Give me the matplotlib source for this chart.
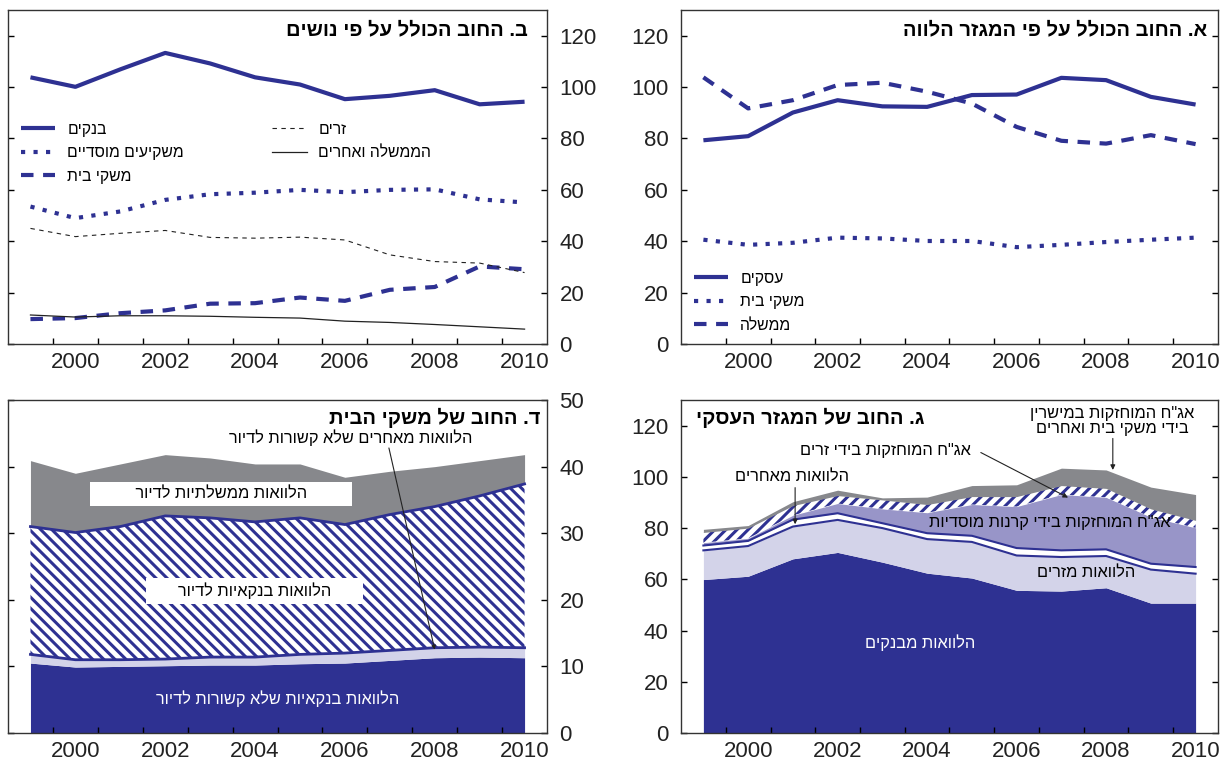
import numpy as np
import matplotlib
matplotlib.use('Agg')
import matplotlib.pyplot as plt

plt.rcParams['font.family'] = ['Liberation Sans', 'DejaVu Sans']
plt.rcParams['hatch.linewidth'] = 2.2

NAVY = '#2e3192'
GRAY = '#87888c'
LAV_LIGHT = '#d3d3e9'
LAV_MID = '#9895c8'

years = [1999, 2000, 2001, 2002, 2003, 2004, 2005, 2006, 2007, 2008, 2009, 2010]
label_years = [2000, 2002, 2004, 2006, 2008, 2010]

# א. total debt by borrowing sector
business = [79.3, 80.9, 90.1, 94.9, 92.5, 92.3, 96.9, 97.1, 103.6, 102.7, 96.2, 93.2]
households_a = [40.6, 38.6, 39.4, 41.4, 41.1, 40.1, 40.1, 37.7, 38.6, 39.7, 40.6, 41.4]
government_a = [103.8, 91.7, 94.9, 100.8, 101.7, 98.2, 93.6, 84.5, 79.1, 78.0, 81.3, 77.8]

# ב. total debt by creditor
banks_b = [103.8, 100.1, 106.9, 113.3, 109.2, 103.8, 101.0, 95.3, 96.6, 98.8, 93.3, 94.3]
institutional_b = [53.5, 49.0, 51.6, 56.1, 58.3, 58.9, 60.0, 59.1, 60.0, 60.2, 56.3, 55.1]
foreigners_b = [45.0, 41.8, 43.1, 44.2, 41.5, 41.2, 41.6, 40.5, 34.7, 32.1, 31.5, 27.8]
households_b = [9.7, 10.1, 12.0, 13.1, 15.7, 15.9, 18.1, 16.8, 21.1, 22.2, 30.2, 29.1]
gov_others_b = [11.3, 10.5, 11.0, 11.0, 10.8, 10.4, 10.1, 8.9, 8.4, 7.6, 6.7, 5.8]

# ג. business sector debt (stacked layers)
bank_loans = [59.9, 61.2, 68.0, 70.5, 66.7, 62.4, 60.5, 55.7, 55.4, 56.7, 50.7, 50.7]
foreign_loans = [11.4, 11.8, 12.6, 12.7, 13.3, 13.3, 14.1, 13.6, 13.3, 12.4, 13.1, 11.5]
other_loans = [1.9, 2.0, 2.7, 2.6, 1.9, 2.3, 2.4, 2.9, 2.6, 2.6, 2.3, 2.6]
inst_bonds = [1.1, 1.0, 1.7, 3.8, 5.6, 8.0, 12.2, 16.2, 21.8, 20.3, 18.2, 15.3]
foreign_bonds = [4.0, 4.0, 3.8, 3.1, 3.5, 3.2, 3.1, 3.9, 3.5, 3.5, 3.2, 2.9]
hh_bonds = [1.2, 1.0, 1.5, 2.1, 0.8, 2.9, 4.3, 4.6, 6.8, 7.2, 8.5, 10.1]

# ד. household debt (stacked layers)
bank_nonhousing = [10.5, 9.9, 10.0, 10.1, 10.2, 10.2, 10.4, 10.5, 10.9, 11.3, 11.4, 11.3]
other_nonhousing = [1.3, 1.1, 1.0, 1.0, 1.2, 1.2, 1.4, 1.5, 1.5, 1.5, 1.5, 1.5]
bank_housing = [19.2, 19.1, 20.0, 21.5, 20.9, 20.3, 20.5, 19.3, 20.4, 21.2, 22.7, 24.6]
gov_housing = [9.9, 8.9, 9.4, 9.2, 9.0, 8.7, 8.1, 7.1, 6.5, 6.0, 5.3, 4.4]

LABEL_SIZE = 11.8
TITLE_SIZE = 14.5


def rtl(s):
    # matplotlib has no bidi support: reverse each line into visual order
    return '\n'.join(line[::-1] for line in s.split('\n'))


def setup_axes(ax, ymax, yticks, side):
    ax.set_xlim(1998.5, 2010.5)
    ax.set_ylim(0, ymax)
    ax.set_xticks([y + 0.5 for y in years[:-1]])
    ax.set_xticks(label_years, [str(y) for y in label_years], minor=True)
    ax.tick_params(axis='x', which='major', direction='in', length=4,
                   labelbottom=False, width=1)
    ax.tick_params(axis='x', which='minor', length=0, labelsize=16, pad=6,
                   colors='#222222')
    ax.set_yticks(yticks)
    ax.tick_params(axis='y', direction='in', length=4, width=1,
                   left=True, right=True,
                   labelleft=(side == 'left'), labelright=(side == 'right'),
                   labelsize=16, pad=9, labelcolor='#222222')
    for sp in ax.spines.values():
        sp.set_linewidth(1.0)
        sp.set_color('#333333')


fig = plt.figure(figsize=(12.22, 7.64), dpi=100)
ax_b = fig.add_axes([0.00655, 0.5497, 0.4411, 0.4372])
ax_a = fig.add_axes([0.5573, 0.5497, 0.4394, 0.4372])
ax_d = fig.add_axes([0.00655, 0.0406, 0.4411, 0.4358])
ax_g = fig.add_axes([0.5573, 0.0406, 0.4394, 0.4358])

solid = dict(color=NAVY, lw=3, solid_capstyle='butt')
dotted = dict(color=NAVY, lw=3, linestyle=(0, (1, 2)), dash_capstyle='butt')
dashed = dict(color=NAVY, lw=3, linestyle=(0, (3, 2.3)), dash_capstyle='butt')

# ---- ב. by creditor ----
ax = ax_b
setup_axes(ax, 130, range(0, 121, 20), 'right')
h1, = ax.plot(years, banks_b, label=rtl('בנקים'), **solid)
h2, = ax.plot(years, institutional_b, label=rtl('משקיעים מוסדיים'), **dotted)
h3, = ax.plot(years, households_b, label=rtl('משקי בית'), **dashed)
h4, = ax.plot(years, foreigners_b, label=rtl('זרים'), color='#222222', lw=0.8,
              linestyle=(0, (4, 4)))
h5, = ax.plot(years, gov_others_b, label=rtl('הממשלה ואחרים'), color='#222222', lw=0.9)
leg_opts = dict(loc='upper left', frameon=False, fontsize=11.3, handlelength=2.2,
                handletextpad=0.75, labelspacing=0.55, borderpad=0, borderaxespad=0)
leg1 = ax.legend(handles=[h1, h2, h3], bbox_to_anchor=(0.024, 0.666), **leg_opts)
ax.add_artist(leg1)
ax.legend(handles=[h4, h5], bbox_to_anchor=(0.49, 0.666), **leg_opts)
ax.text(0.965, 0.94, rtl('ב. החוב הכולל על פי נושים'), transform=ax.transAxes,
        ha='right', va='center', fontsize=TITLE_SIZE, fontweight='bold')

# ---- א. by borrowing sector ----
ax = ax_a
setup_axes(ax, 130, range(0, 121, 20), 'left')
g1, = ax.plot(years, business, label=rtl('עסקים'), **solid)
g2, = ax.plot(years, households_a, label=rtl('משקי בית'), **dotted)
g3, = ax.plot(years, government_a, label=rtl('ממשלה'), **dashed)
ax.legend(handles=[g1, g2, g3], bbox_to_anchor=(0.024, 0.22), **leg_opts)
ax.text(0.98, 0.94, rtl('א. החוב הכולל על פי המגזר הלווה'), transform=ax.transAxes,
        ha='right', va='center', fontsize=TITLE_SIZE, fontweight='bold')

# ---- ד. household debt ----
ax = ax_d
setup_axes(ax, 50, range(0, 51, 10), 'right')
layers_d = np.cumsum(np.vstack([bank_nonhousing, other_nonhousing,
                                bank_housing, gov_housing]), axis=0)
ax.fill_between(years, 0, layers_d[0], color=NAVY, lw=0)
ax.fill_between(years, layers_d[0], layers_d[1], color=LAV_LIGHT, lw=0)
ax.fill_between(years, layers_d[1], layers_d[2], facecolor='white',
                edgecolor=NAVY, hatch='\\\\\\', lw=0)
ax.fill_between(years, layers_d[2], layers_d[3], color=GRAY, lw=0)
ax.plot(years, layers_d[1], color=NAVY, lw=2)
ax.plot(years, layers_d[2], color=NAVY, lw=2)

ax.text(0.987, 0.946, rtl('ד. החוב של משקי הבית'), transform=ax.transAxes,
        ha='right', va='center', fontsize=TITLE_SIZE, fontweight='bold')
box = dict(boxstyle='square,pad=0.3', facecolor='white', edgecolor='none')
ax.text(2003.24, 35.9, ' ' * 9 + rtl('הלוואות ממשלתיות לדיור') + ' ' * 9,
        ha='center', va='center', fontsize=LABEL_SIZE, bbox=box)
ax.text(2003.98, 21.3, ' ' * 6 + rtl('הלוואות בנקאיות לדיור') + ' ' * 6,
        ha='center', va='center', fontsize=LABEL_SIZE, bbox=box)
ax.text(2004.5, 5.1, rtl('הלוואות בנקאיות שלא קשורות לדיור'),
        ha='center', va='center', fontsize=LABEL_SIZE, color='white')
ax.text(2006.13, 44.3, rtl('הלוואות מאחרים שלא קשורות לדיור'),
        ha='center', va='center', fontsize=LABEL_SIZE)
ax.annotate('', xy=(2008, layers_d[1][9] - 0.3), xytext=(2006.98, 42.8),
            arrowprops=dict(arrowstyle='-|>', color='#222222', lw=0.8,
                            mutation_scale=6, shrinkA=0, shrinkB=0))

# ---- ג. business sector debt ----
ax = ax_g
setup_axes(ax, 130, range(0, 121, 20), 'left')
layers_g = np.cumsum(np.vstack([bank_loans, foreign_loans, other_loans,
                                inst_bonds, foreign_bonds, hh_bonds]), axis=0)
ax.fill_between(years, 0, layers_g[0], color=NAVY, lw=0)
ax.fill_between(years, layers_g[0], layers_g[1], color=LAV_LIGHT, lw=0)
ax.fill_between(years, layers_g[1], layers_g[2], color='white', lw=0)
ax.fill_between(years, layers_g[2], layers_g[3], color=LAV_MID, lw=0)
ax.fill_between(years, layers_g[3], layers_g[4], facecolor='white',
                edgecolor=NAVY, hatch='///', lw=0)
ax.fill_between(years, layers_g[4], layers_g[5], color=GRAY, lw=0)
ax.plot(years, layers_g[1], color=NAVY, lw=1.5)
ax.plot(years, layers_g[2], color=NAVY, lw=1.5)

ax.text(0.028, 0.946, rtl('ג. החוב של המגזר העסקי'), transform=ax.transAxes,
        ha='left', va='center', fontsize=TITLE_SIZE, fontweight='bold')
arrow = dict(arrowstyle='-|>', color='#222222', lw=0.8, mutation_scale=7,
             shrinkA=0, shrinkB=0)
ax.text(2008.13, 122.0, rtl('אג"ח המוחזקות במישרין\nבידי משקי בית ואחרים'),
        ha='center', va='center', fontsize=LABEL_SIZE, linespacing=1.0)
ax.annotate('', xy=(2008.15, layers_g[5][9]), xytext=(2008.15, 115.0), arrowprops=arrow)
ax.text(2003.06, 110.2, rtl('אג"ח המוחזקות בידי זרים'),
        ha='center', va='center', fontsize=LABEL_SIZE)
ax.annotate('', xy=(2007.15, 91.9), xytext=(2005.2, 109.5), arrowprops=arrow)
ax.text(2000.98, 100.1, rtl('הלוואות מאחרים'), ha='center', va='center',
        fontsize=LABEL_SIZE)
ax.annotate('', xy=(2001.05, 81.5), xytext=(2001.05, 95.8), arrowprops=arrow)
ax.text(2006.75, 82.2, rtl('אג"ח המוחזקות בידי קרנות מוסדיות'),
        ha='center', va='center', fontsize=LABEL_SIZE)
ax.text(2007.55, 62.7, rtl('הלוואות מזרים'), ha='center', va='center',
        fontsize=LABEL_SIZE)
ax.text(2003.84, 35.4, rtl('הלוואות מבנקים'), ha='center', va='center',
        fontsize=LABEL_SIZE, color='white')

fig.savefig('out.png', dpi=100)
